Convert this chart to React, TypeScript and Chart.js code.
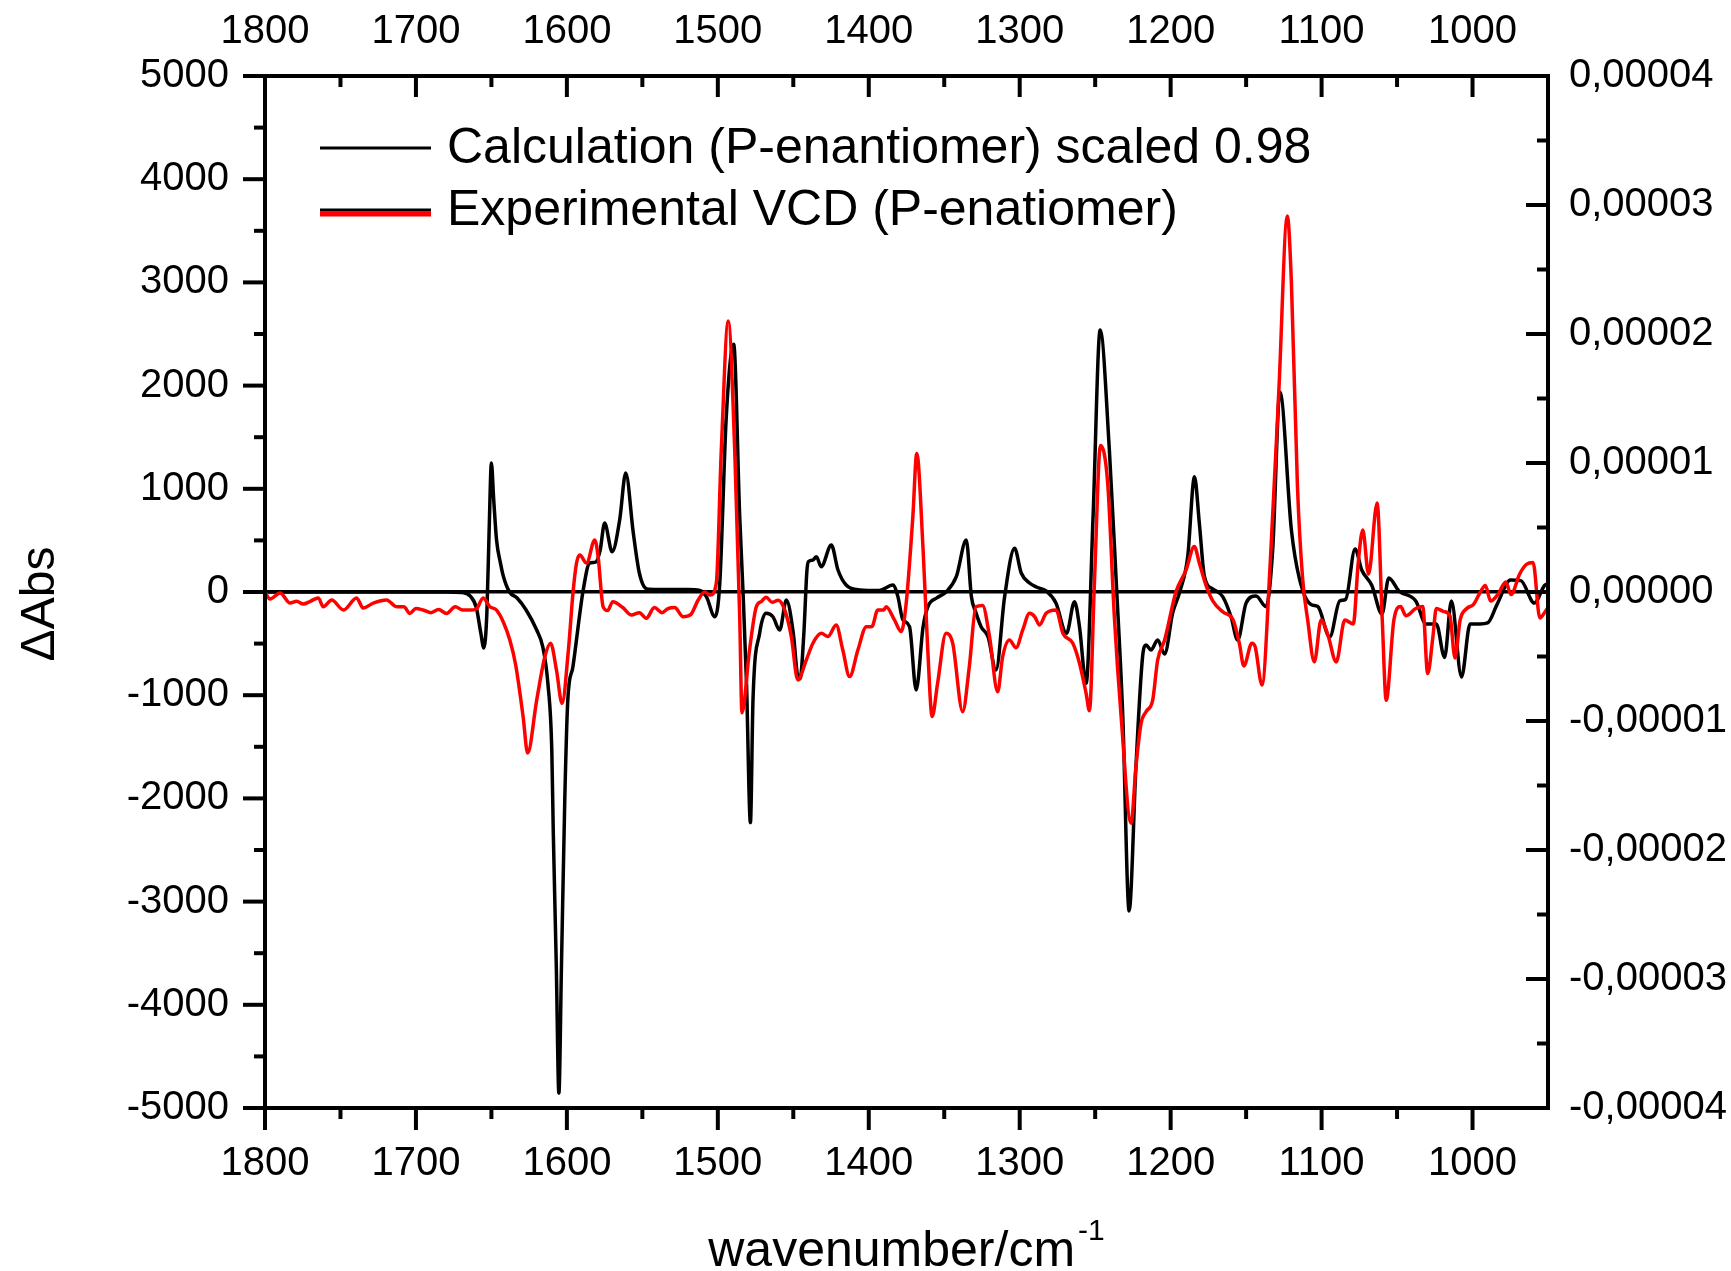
import { useEffect, useRef } from 'react';
import { Chart, registerables } from 'chart.js';

Chart.register(...registerables);

const FONT = '"Liberation Sans", Arial, sans-serif';

const calcLabel = 'Calculation (P-enantiomer) scaled 0.98';
const expLabel = 'Experimental VCD (P-enatiomer)';
const xTitle = 'wavenumber/cm';
const xTitleSup = '-1';
const yTitle = 'ΔAbs';

const xTicks = [1800, 1700, 1600, 1500, 1400, 1300, 1200, 1100, 1000];
const xMinorTicks = [1750, 1650, 1550, 1450, 1350, 1250, 1150, 1050];
const yTicks = [-5000, -4000, -3000, -2000, -1000, 0, 1000, 2000, 3000, 4000, 5000];
const yMinorTicks = [-4500, -3500, -2500, -1500, -500, 500, 1500, 2500, 3500, 4500];
const y2Ticks = [-0.00004, -0.00003, -0.00002, -0.00001, 0, 0.00001, 0.00002, 0.00003, 0.00004];
const y2MinorTicks = [-0.000035, -0.000025, -0.000015, -0.000005, 0.000005, 0.000015, 0.000025, 0.000035];

// Calculated spectrum (left axis, ΔAbs scaled)
const calcWavenumber = [
  1800, 1680, 1670, 1664, 1660, 1657, 1655, 1653, 1651.5, 1650, 1648.5, 1646.6, 1644, 1642, 1638, 1633,
  1627, 1620, 1616, 1612.6, 1610, 1609, 1607, 1605.3, 1603.6, 1601.4, 1599.4, 1596, 1591.4, 1589.4, 1585,
  1581, 1578, 1575, 1570, 1565, 1561, 1556, 1552, 1547, 1540, 1520, 1512, 1507.6, 1502, 1498.7, 1494.4,
  1489.5, 1485.5, 1483.3, 1481, 1478.4, 1476.7, 1472.3, 1468, 1463.5, 1459, 1454.6, 1450, 1447, 1445.5,
  1443, 1441, 1440, 1437, 1434.7, 1431.5, 1424.8, 1420.4, 1415, 1406, 1393, 1384, 1380.7, 1377.4, 1373,
  1368.6, 1364, 1360.8, 1355, 1348.8, 1342, 1335.4, 1332, 1329, 1325.6, 1321, 1315.7, 1310, 1303.4, 1299,
  1293.5, 1289, 1282.5, 1276, 1269, 1263.7, 1260.4, 1256, 1251.4, 1246.7, 1240.6, 1236, 1231.7, 1227.5,
  1223, 1218.6, 1216.3, 1213, 1208.6, 1204, 1198.6, 1194, 1188.7, 1184.2, 1181, 1177.6, 1172, 1165.5,
  1160, 1155.6, 1150, 1143.4, 1136.8, 1132.4, 1127.6, 1120, 1114.7, 1107, 1102.5, 1094.6, 1088, 1084,
  1077.8, 1073.4, 1066.7, 1060, 1055.5, 1048.8, 1037.6, 1030.8, 1024, 1018.5, 1014, 1007.3, 1001.6, 995,
  990, 983.8, 974.8, 968, 959, 952.3, 950,
];
const calcDeltaAbs = [
  0, 0, -5, -40, -150, -400, -543, -200, 600, 1250, 900, 504, 280, 148, 0, -58,
  -174, -368, -530, -884, -1530, -2336, -3630, -4856, -3630, -2015, -1047, -724, -206, 0, 280,
  290, 400, 668, 390, 700, 1153, 572, 184, 30, 25, 25, 15, -45, -240, 87, 1700,
  2400, 730, 0, -884, -2234, -1047, -400, -206, -240, -368, -78, -400, -820, -840,
  -400, 200, 294, 310, 342, 245, 455, 213, 68, 20, 15, 68, -45, -270, -336,
  -950, -336, -142, -58, 0, 148, 504, -45, -200, -336, -433, -756, -45, 423, 184,
  87, 48, 10, -107, -400, -94, -336, -884, 730, 2539, 1376, 87, -1208, -3090,
  -1693, -627, -514, -562, -465, -600, -200, 0, 342, 1117, 668, 148, 29, -45,
  -240, -465, -107, -39, -142, 407, 1938, 600, 130, -122, -141, -436, -87, -70,
  417, 213, 63, -213, 136, 10, -87, -310, -310, -634, -87, -823, -310, -310,
  -300, -122, 116, 110, -107, 63, 80,
];

// Experimental spectrum (right axis, ΔAbs in units of 1e-6)
const expWavenumber = [
  1800, 1796.7, 1790, 1783.4, 1779, 1774.6, 1770, 1764.7, 1761.4, 1755.8, 1748, 1739.3, 1735, 1728.3,
  1719.5, 1712.8, 1708, 1704, 1700, 1695.2, 1690, 1685, 1679.7, 1674, 1669, 1664.3, 1660, 1655.5, 1651,
  1646.6, 1642.2, 1637.8, 1634, 1629, 1626, 1620, 1614.6, 1610.8, 1606.9, 1603.2, 1599, 1595.9, 1593.6,
  1591.4, 1587, 1581.5, 1579.3, 1576, 1573, 1569.6, 1563, 1557.3, 1552, 1547.4, 1542, 1537, 1533, 1528.6,
  1523, 1518, 1513, 1508.7, 1505, 1501, 1497.7, 1493.1, 1488.8, 1485.5, 1484, 1479, 1474.5, 1471, 1468,
  1464, 1460, 1455.7, 1451.3, 1447, 1441.4, 1437, 1431.5, 1427, 1421.6, 1417.2, 1412.7, 1407.2, 1401.6,
  1398, 1394, 1390, 1388.5, 1383, 1378.5, 1375.2, 1370.8, 1368.2, 1364, 1360.9, 1358, 1354.4, 1348.8,
  1344.4, 1337.8, 1333.4, 1329, 1324.6, 1320, 1314.6, 1311.3, 1306.8, 1302.4, 1298, 1293.5, 1290, 1286.9,
  1282.5, 1275.9, 1271.4, 1264.8, 1260.4, 1256, 1253.8, 1250.5, 1246.5, 1241.7, 1237.3, 1232.8, 1226.2,
  1223, 1219.6, 1216.3, 1211.9, 1208.6, 1204, 1196.5, 1189.8, 1184.3, 1181, 1176.5, 1172, 1165.3, 1158.6,
  1154.5, 1151.5, 1146.2, 1144, 1139.5, 1134, 1128.3, 1122.7, 1120, 1116, 1112.6, 1109.2, 1104.8, 1100.3,
  1095.8, 1090.3, 1084.6, 1079, 1075.7, 1072.7, 1068.9, 1063.2, 1059.8, 1057.2, 1052.1, 1047.6, 1044.2,
  1037.6, 1033, 1029.7, 1026.3, 1024, 1019, 1015, 1011.6, 1008.2, 1003.8, 999.3, 994.8, 991.5, 988, 983,
  978, 974.5, 968.8, 964.4, 959.9, 955.4, 952, 950,
];
const expDeltaAbsE6 = [
  0, -0.54, -0.08, -0.86, -0.72, -0.93, -0.72, -0.46, -1.14, -0.62, -1.39, -0.46, -1.24, -0.86,
  -0.62, -1.14, -1.14, -1.66, -1.28, -1.4, -1.6, -1.36, -1.66, -1.14, -1.4, -1.4, -1.32, -0.46, -1.14,
  -1.4, -2.3, -3.72, -5.6, -9.66, -12.48, -8.38, -5.02, -3.97, -6.05, -8.64, -4.5, 0, 2.25,
  2.86, 2.24, 4.03, 2.74, -1.14, -1.44, -0.75, -1.2, -1.78, -1.6, -2.04, -1.2, -1.6, -1.28, -1.2,
  -1.92, -1.76, -0.62, 0, -0.24, 0.7, 11.0, 21.0, 11.0, -1.92, -9.37, -4.5, -1.14, -0.72, -0.4,
  -0.8, -0.64, -1.39, -3.46, -6.82, -5.27, -3.97, -3.2, -3.44, -2.56, -4.5, -6.56, -4.5, -2.69,
  -2.69, -1.39, -1.39, -1.14, -2.16, -3.07, -0.86, 5.84, 10.74, 3.26, -4.5, -9.66, -7.07, -3.2,
  -3.97, -9.28, -5.79, -1.14, -1.04, -3.46, -7.73, -5.02, -3.72, -4.32, -2.94, -1.65, -1.92, -2.56,
  -1.65, -1.39, -3.2, -3.97, -5.52, -7.86, -9.2, 0.7, 11.36, 8.42, -1.92, -9.66, -17.92,
  -13.54, -10.18, -9.28, -8.38, -5.27, -3.72, 0, 1.7, 3.52, 2.25, 0.5, -0.7, -1.55, -2.16,
  -3.97, -5.73, -3.97, -4.24, -7.21, 2.29, 15.66, 29.14, 24.0, 8.22, 1.09, -2.17, -5.42, -2.17,
  -3.34, -5.42, -2.17, -2.48, 2.29, 4.81, 1.39, 6.9, -2.17, -8.4, -2.17, -1.13, -1.84,
  -1.28, -1.12, -6.32, -3.52, -1.28, -1.52, -1.84, -5.12, -2.17, -1.28, -0.96, 0, 0.5, -0.7, -0.16,
  0.78, -0.2, 1.39, 2.13, 2.29, -2.02, -1.55, -1.2,
];

const decorPlugin = {
  id: 'decor',
  afterDraw(chart: any) {
    const { ctx, chartArea: a, scales } = chart;
    ctx.save();
    ctx.strokeStyle = '#000';
    ctx.fillStyle = '#000';
    ctx.lineCap = 'butt';

    const seg = (x1: number, y1: number, x2: number, y2: number) => {
      ctx.beginPath();
      ctx.moveTo(x1, y1);
      ctx.lineTo(x2, y2);
      ctx.stroke();
    };

    // tick marks
    ctx.lineWidth = 4;
    xTicks.forEach((v) => {
      const px = scales.x.getPixelForValue(v);
      seg(px, a.bottom, px, a.bottom + 22);
      seg(px, a.top, px, a.top + 21);
    });
    xMinorTicks.forEach((v) => {
      const px = scales.x.getPixelForValue(v);
      seg(px, a.bottom, px, a.bottom + 11);
      seg(px, a.top, px, a.top + 11);
    });
    yTicks.forEach((v) => {
      const py = scales.y.getPixelForValue(v);
      seg(a.left - 22, py, a.left, py);
    });
    yMinorTicks.forEach((v) => {
      const py = scales.y.getPixelForValue(v);
      seg(a.left - 11, py, a.left, py);
    });
    y2Ticks.forEach((v) => {
      const py = scales.y2.getPixelForValue(v);
      seg(a.right - 22, py, a.right, py);
    });
    y2MinorTicks.forEach((v) => {
      const py = scales.y2.getPixelForValue(v);
      seg(a.right - 11, py, a.right, py);
    });

    // frame
    ctx.lineWidth = 4;
    ctx.strokeRect(a.left, a.top, a.right - a.left, a.bottom - a.top);

    // x title with superscript
    ctx.textBaseline = 'alphabetic';
    ctx.textAlign = 'left';
    ctx.font = `50px ${FONT}`;
    const wMain = ctx.measureText(xTitle).width;
    ctx.font = `30px ${FONT}`;
    const wSup = ctx.measureText(xTitleSup).width;
    const cx = (a.left + a.right) / 2;
    const startX = cx - (wMain + 3 + wSup) / 2;
    ctx.font = `50px ${FONT}`;
    ctx.fillText(xTitle, startX, 1266);
    ctx.font = `30px ${FONT}`;
    ctx.fillText(xTitleSup, startX + wMain + 3, 1240);

    // y title
    ctx.save();
    ctx.translate(54, 604);
    ctx.rotate(-Math.PI / 2);
    ctx.textAlign = 'center';
    ctx.font = `48px ${FONT}`;
    ctx.fillText(yTitle, 0, 0);
    ctx.restore();

    // legend
    const ds = chart.data.datasets;
    const lx1 = a.left + 55;
    const lx2 = a.left + 166;
    const tx = a.left + 182;
    const r1 = a.top + 72;
    const r2 = a.top + 134;
    ctx.lineWidth = 3;
    ctx.strokeStyle = '#000';
    seg(lx1, r1, lx2, r1);
    ctx.strokeStyle = '#ff0000';
    ctx.lineWidth = 5;
    seg(lx1, r2 + 4, lx2, r2 + 4);
    ctx.strokeStyle = '#000';
    ctx.lineWidth = 3;
    seg(lx1, r2, lx2, r2);
    ctx.font = `50px ${FONT}`;
    ctx.textBaseline = 'middle';
    ctx.textAlign = 'left';
    ctx.fillText(ds[0].label, tx, r1 + 1);
    ctx.fillText(ds[1].label, tx, r2 + 1);

    ctx.restore();
  },
};

export default function App() {
  const ref = useRef<HTMLCanvasElement>(null);

  useEffect(() => {
    const canvas = ref.current;
    if (!canvas) return;
    Chart.defaults.font.family = FONT;
    Chart.defaults.color = '#000';

    const tickFont = { size: 40, family: FONT };
    const xScaleBase = {
      type: 'linear' as const,
      min: 950,
      max: 1800,
      reverse: true,
      grid: { display: false },
      border: { display: false },
      afterBuildTicks: (s: any) => {
        s.ticks = xTicks.map((v) => ({ value: v }));
      },
    };

    const chart = new Chart(canvas, {
      type: 'line',
      data: {
        datasets: [
          {
            label: calcLabel,
            data: calcWavenumber.map((x, i) => ({ x, y: calcDeltaAbs[i] })),
            borderColor: '#000000',
            borderWidth: 3.5,
            pointRadius: 0,
            xAxisID: 'x',
            yAxisID: 'y',
            cubicInterpolationMode: 'monotone',
            order: 2,
          },
          {
            label: expLabel,
            data: expWavenumber.map((x, i) => ({ x, y: expDeltaAbsE6[i] * 1e-6 })),
            borderColor: '#ff0000',
            borderWidth: 3.5,
            pointRadius: 0,
            xAxisID: 'x',
            yAxisID: 'y2',
            cubicInterpolationMode: 'monotone',
            order: 1,
          },
        ],
      },
      options: {
        responsive: false,
        animation: false,
        layout: { padding: 0 },
        plugins: { legend: { display: false }, tooltip: { enabled: false } },
        scales: {
          x: {
            ...xScaleBase,
            position: 'bottom',
            afterFit: (s: any) => {
              s.height = 163;
            },
            ticks: {
              font: tickFont,
              color: '#000',
              padding: 24,
              maxRotation: 0,
              autoSkip: false,
              callback: (v: any) => String(v),
            },
          },
          x2: {
            ...xScaleBase,
            position: 'top',
            afterFit: (s: any) => {
              s.height = 76;
            },
            ticks: {
              font: tickFont,
              color: '#000',
              padding: 12,
              maxRotation: 0,
              autoSkip: false,
              callback: (v: any) => String(v),
            },
          },
          y: {
            type: 'linear',
            position: 'left',
            min: -5000,
            max: 5000,
            afterBuildTicks: (s: any) => {
              s.ticks = yTicks.map((v) => ({ value: v }));
            },
            afterFit: (s: any) => {
              s.width = 265;
            },
            grid: {
              display: true,
              drawTicks: false,
              lineWidth: 3.5,
              color: (c: any) => (c.tick && c.tick.value === 0 ? '#000000' : 'rgba(0,0,0,0)'),
            },
            border: { display: false },
            ticks: {
              font: tickFont,
              color: '#000',
              padding: 36,
              autoSkip: false,
              callback: (v: any) => String(v),
            },
          },
          y2: {
            type: 'linear',
            position: 'right',
            min: -0.00004,
            max: 0.00004,
            afterBuildTicks: (s: any) => {
              s.ticks = y2Ticks.map((v) => ({ value: v }));
            },
            afterFit: (s: any) => {
              s.width = 183;
            },
            grid: { display: false },
            border: { display: false },
            ticks: {
              font: tickFont,
              color: '#000',
              padding: 13,
              autoSkip: false,
              callback: (v: any) => (Math.abs(v) < 1e-12 ? 0 : v).toFixed(5).replace('.', ','),
            },
          },
        },
      } as any,
      plugins: [decorPlugin],
    });

    return () => chart.destroy();
  }, []);

  return (
    <div style={{ position: 'fixed', left: 0, top: 0, width: 1731, height: 1271, background: '#ffffff' }}>
      <canvas ref={ref} width={1731} height={1271} style={{ display: 'block', width: 1731, height: 1271 }} />
    </div>
  );
}
